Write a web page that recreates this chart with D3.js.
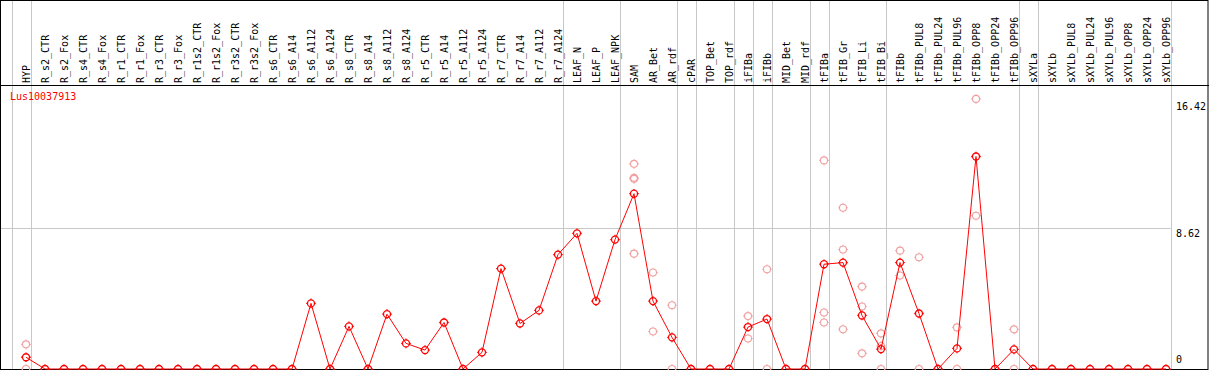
<!DOCTYPE html>
<html>
<head>
<meta charset="utf-8">
<script src="https://cdn.jsdelivr.net/npm/d3@7"></script>
<style>
    body { margin: 0; background: #fff; }
    text { font-family: "DejaVu Sans Mono", monospace; font-size: 10px; }
</style>
</head>
<body>
<div id="chart"></div>
<script>
const categories = ["HYP",
    "R_s2_CTR", "R_s2_Fox", "R_s4_CTR", "R_s4_Fox", "R_r1_CTR", "R_r1_Fox", "R_r3_CTR", "R_r3_Fox",
    "R_r1s2_CTR", "R_r1s2_Fox", "R_r3s2_CTR", "R_r3s2_Fox",
    "R_s6_CTR", "R_s6_A14", "R_s6_A112", "R_s6_A124", "R_s8_CTR", "R_s8_A14", "R_s8_A112", "R_s8_A124",
    "R_r5_CTR", "R_r5_A14", "R_r5_A112", "R_r5_A124", "R_r7_CTR", "R_r7_A14", "R_r7_A112", "R_r7_A124",
    "LEAF_N", "LEAF_P", "LEAF_NPK", "SAM", "AR_Bet", "AR_rdf", "cPAR", "TOP_Bet", "TOP_rdf",
    "iFIBa", "iFIBb", "MID_Bet", "MID_rdf", "tFIBa", "tFIB_Gr", "tFIB_Li", "tFIB_Bi",
    "tFIBb", "tFIBb_PUL8", "tFIBb_PUL24", "tFIBb_PUL96", "tFIBb_OPP8", "tFIBb_OPP24", "tFIBb_OPP96",
    "sXYLa", "sXYLb", "sXYLb_PUL8", "sXYLb_PUL24", "sXYLb_PUL96", "sXYLb_OPP8", "sXYLb_OPP24", "sXYLb_OPP96"];

// number of categories in each tissue group (separated by grey lines)
const groupSizes = [1, 28, 3, 3, 1, 2, 1, 1, 2, 1, 3, 7, 1, 7];

// mean expression per category
const meanValues = [0.72,
    0, 0, 0, 0, 0, 0, 0, 0,
    0, 0, 0, 0,
    0, 0, 4.02, 0, 2.61, 0, 3.36, 1.57,
    1.16, 2.85, 0, 1.02, 6.15, 2.79, 3.59, 7.01,
    8.31, 4.16, 7.93, 10.74, 4.16, 1.94, 0, 0, 0,
    2.57, 3.06, 0, 0, 6.42, 6.52, 3.28, 1.22,
    6.52, 3.40, 0, 1.26, 13.02, 0, 1.20,
    0, 0, 0, 0, 0, 0, 0, 0];

// individual replicates (only where they show)
const repCategories = ["HYP", "HYP", "SAM", "SAM", "SAM", "SAM", "AR_Bet", "AR_Bet", "AR_rdf", "AR_rdf",
    "iFIBa", "iFIBa", "iFIBb", "iFIBb", "tFIBa", "tFIBa", "tFIBa", "tFIB_Gr", "tFIB_Gr", "tFIB_Gr",
    "tFIB_Li", "tFIB_Li", "tFIB_Li", "tFIB_Bi", "tFIB_Bi", "tFIB_Bi", "tFIBb", "tFIBb",
    "tFIBb_PUL8", "tFIBb_PUL8", "tFIBb_PUL96", "tFIBb_PUL96", "tFIBb_OPP8", "tFIBb_OPP8",
    "tFIBb_OPP96", "tFIBb_OPP96"];
const repValues = [1.51, 0, 12.57, 11.72, 11.65, 7.07, 5.91, 2.30, 3.91, 0,
    3.24, 1.87, 6.11, 0, 12.78, 3.46, 2.85, 9.88, 7.32, 2.44,
    5.05, 3.83, 0.96, 2.18, 1.41, 0, 7.25, 5.73,
    6.85, 0, 2.55, 0, 16.55, 9.39,
    2.43, 0];

const yTicks = [0, 8.62, 16.42];
const geneName = "Lus10037913";

function drawChart(id) {

    const width = 1209;
    const height = 370;
    const headerBottom = 86;
    const plotBottom = 369;

    const svg = d3.select(id)
        .append("svg")
        .attr("width", width)
        .attr("height", height);

    const xScale = d3.scalePoint()
        .domain(categories)
        .range([26, 1166]);
    const step = xScale.step();

    const yScale = d3.scaleLinear()
        .domain([0, 16.42])
        .range([plotBottom, 101]);

    const plotRight = xScale(categories[categories.length - 1]) + step / 4;

    // group separators
    let sepX = [xScale(categories[0]) - step * 0.75];
    let idx = -1;
    groupSizes.forEach(function(n) {
        idx += n;
        sepX.push(xScale(categories[idx]) + step / 4);
    });

    svg.selectAll("line.sep")
        .data(sepX)
        .enter()
        .append("line")
            .attr("class", "sep")
            .attr("x1", function(d) { return Math.round(d) + 0.5; })
            .attr("x2", function(d) { return Math.round(d) + 0.5; })
            .attr("y1", 0)
            .attr("y2", plotBottom)
            .attr("stroke", "#c8c8c8");

    // middle gridline
    svg.append("line")
        .attr("x1", 1)
        .attr("x2", plotRight)
        .attr("y1", Math.round(yScale(8.62)) + 0.5)
        .attr("y2", Math.round(yScale(8.62)) + 0.5)
        .attr("stroke", "#c8c8c8");

    // frame and header line
    svg.append("rect")
        .attr("x", 0.5).attr("y", 0.5)
        .attr("width", width - 1.5).attr("height", plotBottom)
        .attr("fill", "none")
        .attr("stroke", "#000");
    svg.append("line")
        .attr("x1", 0).attr("x2", width)
        .attr("y1", headerBottom - 0.5).attr("y2", headerBottom - 0.5)
        .attr("stroke", "#000");

    // rotated category labels
    svg.selectAll("text.cat")
        .data(categories)
        .enter()
        .append("text")
            .attr("class", "cat")
            .attr("transform", function(d) {
                return `translate(${xScale(d) + 3.5},83) rotate(-90)`;
            })
            .text(function(d) { return d; });

    // y tick labels on the right
    svg.selectAll("text.ytick")
        .data(yTicks)
        .enter()
        .append("text")
            .attr("class", "ytick")
            .attr("x", 1176)
            .attr("y", function(d) { return d === 0 ? yScale(d) - 6 : yScale(d) + 8.5; })
            .text(function(d) { return d; });

    svg.append("text")
        .attr("x", 10)
        .attr("y", 100)
        .attr("fill", "#ff0000")
        .text(geneName);

    // small circle with tiny ticks at four sides
    const marker = "M-3.5,0A3.5,3.5 0 1,0 3.5,0A3.5,3.5 0 1,0 -3.5,0" +
        "M0,-3.5V-4.8M0,3.5V4.8M-3.5,0H-4.8M3.5,0H4.8";

    // replicates
    svg.selectAll("path.rep")
        .data(repValues)
        .enter()
        .append("path")
            .attr("class", "rep")
            .attr("transform", function(d, i) {
                return `translate(${xScale(repCategories[i])},${yScale(d)})`;
            })
            .attr("d", marker)
            .attr("fill", "none")
            .attr("stroke", "#f0a0a0")
            .attr("stroke-width", 1.1);

    const line = d3.line()
        .x(function(d, i) { return xScale(categories[i]); })
        .y(function(d) { return yScale(d); });

    svg.append("path")
        .datum(meanValues)
        .attr("d", line)
        .attr("fill", "none")
        .attr("stroke", "#ff0000")
        .attr("stroke-width", 1);

    svg.selectAll("path.mean")
        .data(meanValues)
        .enter()
        .append("path")
            .attr("class", "mean")
            .attr("transform", function(d, i) {
                return `translate(${xScale(categories[i])},${yScale(d)})`;
            })
            .attr("d", marker)
            .attr("fill", "none")
            .attr("stroke", "#ff0000")
            .attr("stroke-width", 1.3);
}

drawChart("#chart");
</script>
</body>
</html>
